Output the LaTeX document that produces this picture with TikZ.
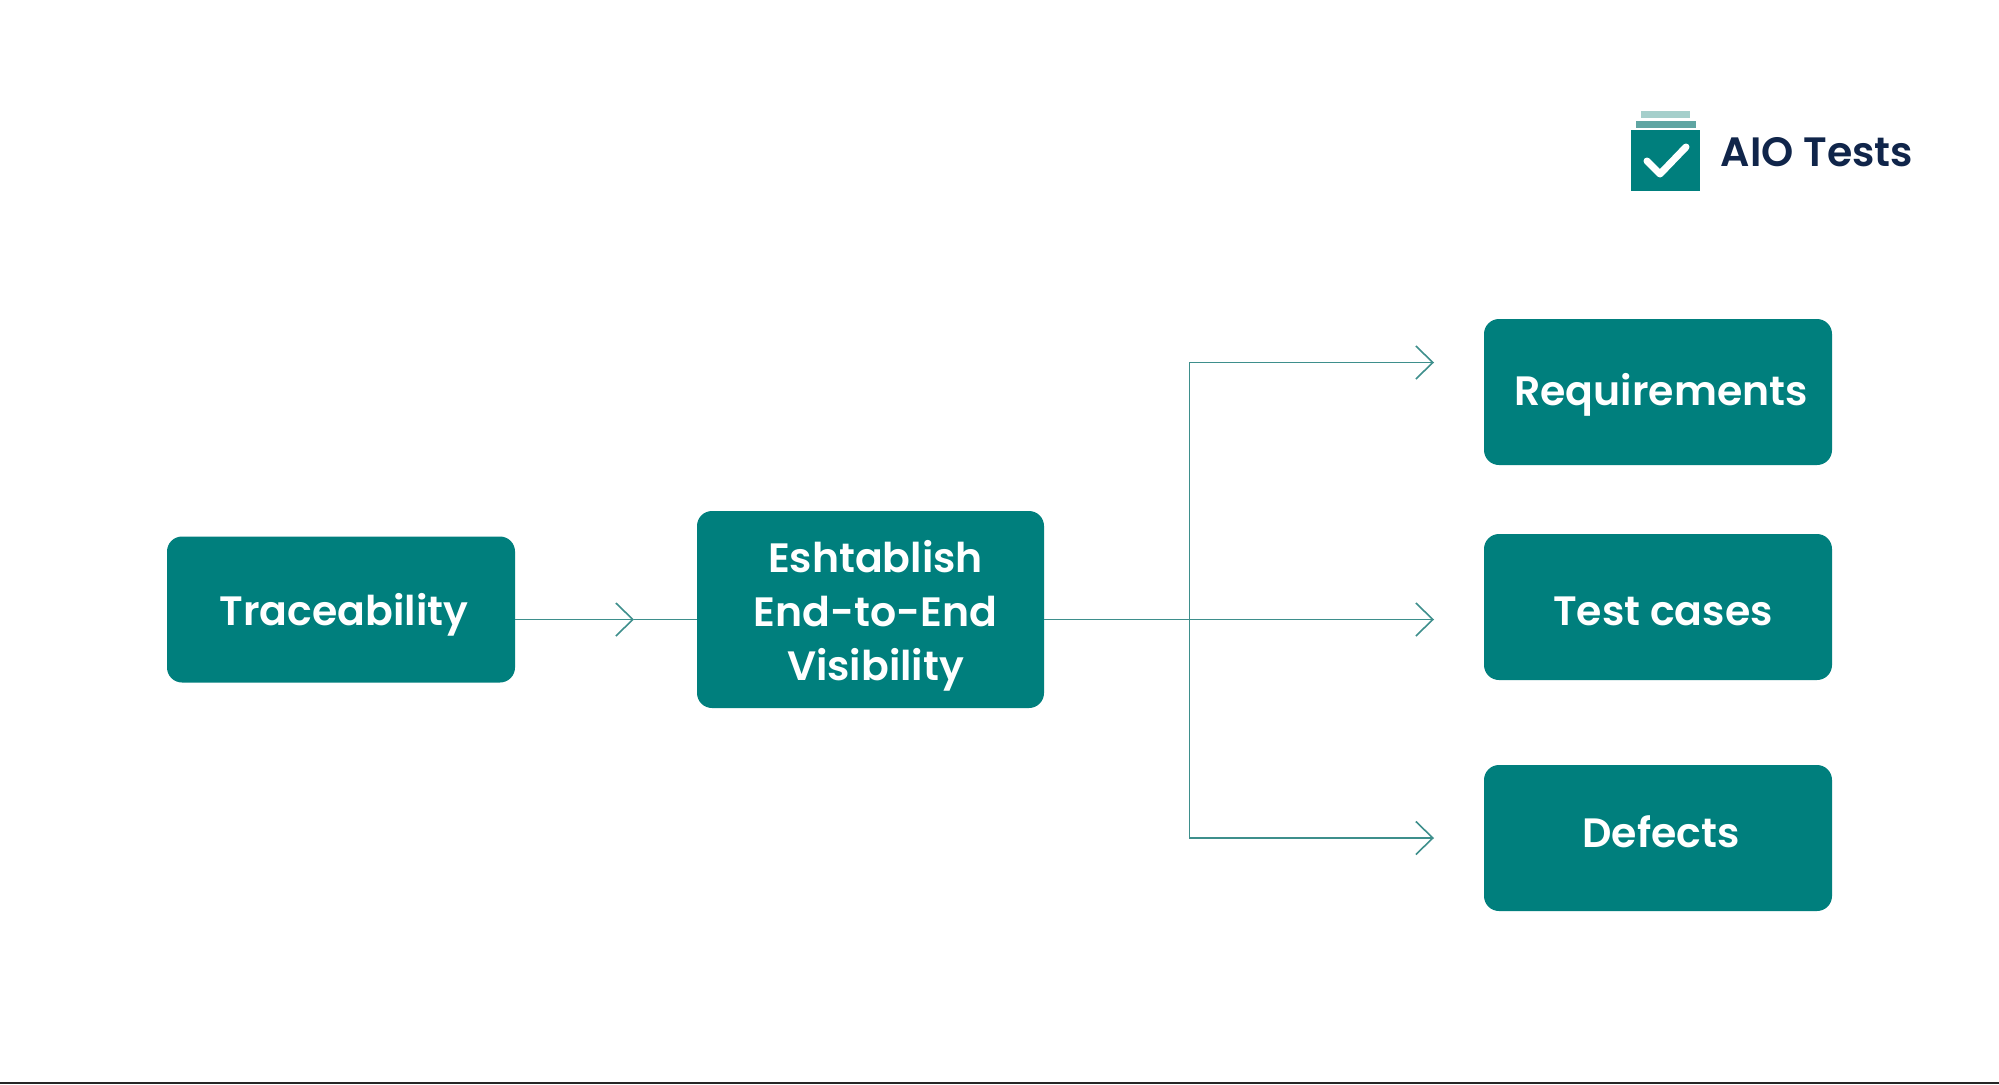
\documentclass[tikz,border=0pt]{standalone}
\usepackage{fontspec}
\setmainfont{Poppins}[BoldFont={Poppins SemiBold}]
\usetikzlibrary{arrows.meta}
\definecolor{teal1}{HTML}{007F7D}
\definecolor{teal2}{HTML}{3E8F8C}
\definecolor{navy}{HTML}{10254A}
\definecolor{bar2}{HTML}{5FA5A2}
\definecolor{bar3}{HTML}{A5CFCB}
\tikzset{
  card/.style={fill=teal1,draw=none,rounded corners=15pt,inner sep=0pt},
  cardtext/.style={text=white,font=\fontsize{41}{54}\selectfont\bfseries,align=center,inner sep=0pt},
  conn/.style={draw=teal2,line width=1.5pt},
  tipped/.style={conn,-{Straight Barb[length=17pt,width=33pt,line width=1.6pt]}},
}
\begin{document}
\begin{tikzpicture}[x=1pt,y=-1pt]
\useasboundingbox (0,0) rectangle (1999,1084);
\fill[white] (0,0) rectangle (1999,1084);
\fill[black!85] (0,1082) rectangle (1999,1084);
% boxes
\node[card,minimum width=348pt,minimum height=146pt,label={[cardtext,name=tlabel,xshift=3pt,yshift=-5pt]center:Traceability}] (trace) at (341,609.5) {};
\node[card,minimum width=347pt,minimum height=197pt,label={[cardtext,name=elabel,xshift=5pt,yshift=-6pt]center:Eshtablish\\End-to-End\\Visibility}] (est) at (870.5,609.5) {};
\node[card,minimum width=348pt,minimum height=146pt,label={[cardtext,name=rlabel,xshift=3pt,yshift=-3pt]center:Requirements}] (req) at (1658,392) {};
\node[card,minimum width=348pt,minimum height=146pt,label={[cardtext,name=clabel,xshift=5pt,yshift=-4pt]center:Test cases}] (tc) at (1658,607) {};
\node[card,minimum width=348pt,minimum height=146pt,label={[cardtext,name=dlabel,xshift=3pt,yshift=6pt]center:Defects}] (def) at (1658,838) {};
% connector end points
\coordinate (tip0) at (634,619.5);
\coordinate (hub) at (1189.5,619.5);
\coordinate (tipr) at (1434,362.5);
\coordinate (tipc) at (1434,619.5);
\coordinate (tipd) at (1434,838);
% connectors
\draw[tipped] (trace.east |- tip0) -- (tip0);
\draw[conn] (tip0) -- (est.west |- tip0);
\draw[tipped] (est.east |- tip0) -- (tipc);
\draw[tipped] (hub) |- (tipr);
\draw[tipped] (hub) |- (tipd);
% logo
\node[fill=bar3,minimum width=49pt,minimum height=7pt,inner sep=0pt] (lg3) at (1665.5,114.5) {};
\node[fill=bar2,minimum width=60pt,minimum height=7pt,inner sep=0pt] (lg2) at (1665.5,124.5) {};
\node[fill=teal1,minimum width=69pt,minimum height=61pt,inner sep=0pt] (lg1) at (1665.5,160.5) {};
\draw[white,line width=7pt,line cap=round,line join=round] (1647,161) -- (1660,174) -- (1686,147);
\node[text=navy,font=\fontsize{41}{50}\selectfont\bfseries,inner sep=0pt,anchor=center] (brand) at (1817,152) {AIO Tests};
\end{tikzpicture}
\end{document}
